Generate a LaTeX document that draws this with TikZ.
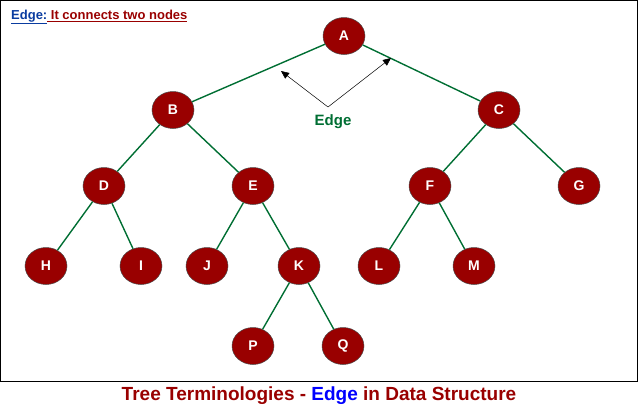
\documentclass[tikz,border=0pt]{standalone}
\usepackage{fontspec}
\setmainfont{Liberation Sans}
\usetikzlibrary{shapes.geometric,arrows.meta}
\definecolor{nred}{HTML}{990000}
\definecolor{egreen}{HTML}{006E33}
\definecolor{tblue}{HTML}{0A3CA0}
\begin{document}
\begin{tikzpicture}[x=1pt,y=-1pt,
  tn/.style={ellipse,draw=black!70,line width=0.5pt,fill=nred,minimum width=42pt,minimum height=37pt,inner sep=0pt,text=white,font=\fontsize{14}{14}\selectfont\bfseries},
  ed/.style={egreen,line width=1.4pt}]
\useasboundingbox (0,0) rectangle (638,410);
\draw[line width=0.8pt] (0.5,0.5) rectangle (637,381);
\foreach \n/\x/\y in {A/344/36,B/173/110,C/499/110,D/104/186,E/253/186,F/430/186,G/579/186,H/46/266,I/141/266,J/207/266,K/299/266,L/379/266,M/474/266,P/253/346,Q/343/346}
  \node[tn] (\n) at (\x,\y) {\n};
\foreach \a/\b in {A/B,A/C,B/D,B/E,C/F,C/G,D/H,D/I,E/J,E/K,F/L,F/M,K/P,K/Q}
  \draw[ed] (\a) -- (\b);
\coordinate (ap) at (328,107);
\coordinate (t1) at (281,71);
\coordinate (t2) at (391,58);
\draw[-{Triangle[length=8pt,width=7pt]},line width=0.5pt] (ap) -- (t1);
\draw[-{Triangle[length=8pt,width=7pt]},line width=0.5pt] (ap) -- (t2);
\node[text=egreen,font=\fontsize{15}{15}\selectfont\bfseries] (el) at (333,122) {Edge};
\node[anchor=west,inner sep=0pt,font=\fontsize{13}{13}\selectfont\bfseries] (tt) at (11,17) {\textcolor{tblue}{\underline{Edge:}}\textcolor{nred}{\underline{ It connects two nodes}}};
\node[font=\fontsize{19}{19}\selectfont\bfseries,text=nred] (cap) at (319,396) {Tree Terminologies - \textcolor{blue}{Edge} in Data Structure};
\end{tikzpicture}
\end{document}
